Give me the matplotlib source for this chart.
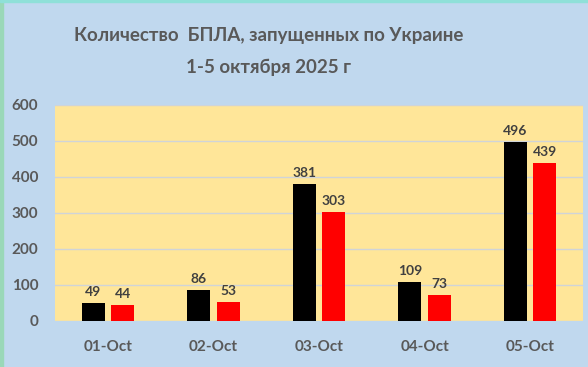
import matplotlib
matplotlib.use("Agg")
import matplotlib.pyplot as plt
import numpy as np

days = ["01-Oct", "02-Oct", "03-Oct", "04-Oct", "05-Oct"]
launched = [49, 86, 381, 109, 496]
downed = [44, 53, 303, 73, 439]
yticks = [0, 100, 200, 300, 400, 500, 600]

plt.rcParams['font.family'] = ['Lato', 'DejaVu Sans']

fig = plt.figure(figsize=(5.88, 3.67), dpi=100)
fig.patch.set_facecolor("#c0d8ee")
ax = fig.add_axes([55 / 588, 1 - 321 / 367, 528 / 588, 216 / 367])
ax.set_facecolor("#ffe699")

x = np.arange(len(days))
w = 0.218
off = 0.14
ax.bar(x - off, launched, w, color="black", zorder=3)
ax.bar(x + off, downed, w, color="#ff0000", zorder=3)

for xi, v in zip(x, launched):
    ax.text(xi - off, v + 14, str(v), ha="center", va="bottom",
            fontsize=10, fontweight="bold", color="#404040")
for xi, v in zip(x, downed):
    ax.text(xi + off, v + 14, str(v), ha="center", va="bottom",
            fontsize=10, fontweight="bold", color="#404040")

ax.set_xlim(-0.5, len(days) - 0.5)
ax.set_ylim(0, 600)
ax.set_yticks(yticks)
ax.set_xticks(x)
ax.set_xticklabels(days)
ax.grid(axis="y", color="#d0d4d8", linewidth=1, zorder=1)
for s in ax.spines.values():
    s.set_visible(False)
ax.tick_params(length=0, labelsize=11, colors="#595959")
for lbl in ax.get_xticklabels() + ax.get_yticklabels():
    lbl.set_fontweight("bold")
ax.tick_params(axis="x", pad=14)
ax.tick_params(axis="y", pad=12)

tx = 269 / 588
fig.text(tx, 1 - 35 / 367, "Количество  БПЛА, запущенных по Украине",
         ha="center", va="center", fontsize=13.5, fontweight="bold", color="#595959")
fig.text(tx, 1 - 67 / 367, "1-5 октября 2025 г",
         ha="center", va="center", fontsize=13.5, fontweight="bold", color="#595959")

# thin border strips as in the screenshot
fig.patches.append(plt.Rectangle((0, 0), 3 / 588, 1, transform=fig.transFigure,
                                 color="#9ad8b8", zorder=0))
fig.patches.append(plt.Rectangle((0, 1 - 2 / 367), 1, 2 / 367, transform=fig.transFigure,
                                 color="#8fe0d8", zorder=0))

fig.savefig("out.png", dpi=100, facecolor=fig.get_facecolor())
